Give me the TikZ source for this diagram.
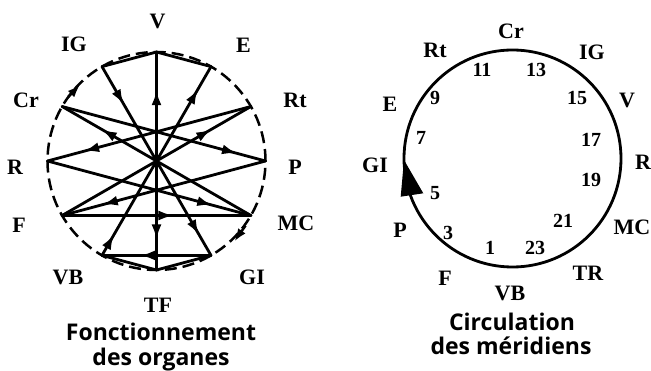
\documentclass[tikz,border=0pt]{standalone}
\usepackage{fontspec}
\setmainfont{Liberation Serif}
\newfontfamily\titlefont{Open Sans}
\usetikzlibrary{arrows.meta,decorations.markings,calc}
\begin{document}
\begin{tikzpicture}[x=1pt,y=1pt,
  lab/.style={font=\bfseries\fontsize{22}{22}\selectfont, inner sep=0pt},
  num/.style={font=\bfseries\fontsize{20}{20}\selectfont, inner sep=0pt},
  ttl/.style={font=\titlefont\bfseries\fontsize{23}{23}\selectfont, inner sep=0pt, anchor=base},
  ln/.style={line width=2.8pt, line cap=round, line join=round},
  dashc/.style={line width=2.5pt, dash pattern=on 12pt off 6pt},
  mk/.style={postaction={decorate}, decoration={markings, mark=at position #1 with {\arrow{Latex[length=15pt,width=10pt]}}}},
  mkk/.style 2 args={postaction={decorate}, decoration={markings, mark=at position #1 with {\arrow{Latex[length=15pt,width=10pt]}}, mark=at position #2 with {\arrow{Latex[length=15pt,width=10pt]}}}}
]
\useasboundingbox (0,0) rectangle (651,370);
% ---------- left diagram ----------
\coordinate (O) at (156.5,209);
\foreach \n/\a in {V/90,E/60,Rt/30,P/0,MC/-30,GI/-60,TF/-90,VB/-120,F/-150,R/180,Cr/150,IG/120}
  \coordinate (\n) at ($(O)+(\a:109)$);
\draw[dashc] (O) circle[radius=109];
\coordinate (da1) at ($(O)+(144:109)$);
\coordinate (da2) at ($(O)+(135:108)$);
\coordinate (db1) at ($(O)+(-36:110)$);
\coordinate (db2) at ($(O)+(-46:112)$);
\draw[line width=2.5pt, -{Latex[length=13pt,width=9pt]}] (da1) -- (da2);
\draw[line width=2.5pt, -{Latex[length=13pt,width=9pt]}] (db1) -- (db2);
% chords without arrows
\draw[ln] (IG) -- (V) -- (E);
\draw[ln] (VB) -- (TF) -- (GI);
% diameters
\draw[ln, mk=0.65] (O) -- (V);
\draw[ln, mk=0.72] (O) -- (TF);
\draw[ln, mkk={0.2}{0.89}] (IG) -- (GI);
\draw[ln, mkk={0.11}{0.88}] (VB) -- (E);
\draw[ln, mk=0.79] (MC) -- (Cr);
\draw[ln, mk=0.79] (F) -- (Rt);
% other chords
\draw[ln, mk=0.82] (Rt) -- (R);
\draw[ln, mk=0.86] (Cr) -- (P);
\draw[ln, mk=0.80] (P) -- (F);
\draw[ln, mk=0.81] (R) -- (MC);
\draw[ln, mk=0.59] (F) -- (MC);
\draw[ln, mk=0.65] (GI) -- (VB);
% labels
\node[lab] (lV) at (157.5,349) {V};
\node[lab] (lIG) at (74,325.5) {IG};
\node[lab] (lE) at (243.5,325) {E};
\node[lab] (lCr) at (26,270) {Cr};
\node[lab] (lRt) at (295,270) {Rt};
\node[lab] (lR) at (15,203) {R};
\node[lab] (lP) at (295,203) {P};
\node[lab] (lF) at (19,145) {F};
\node[lab] (lMC) at (296,147) {MC};
\node[lab] (lVB) at (68,93) {VB};
\node[lab] (lGI) at (252,93) {GI};
\node[lab] (lTF) at (158,65) {TF};
\node[ttl] (t1) at (161,30) {Fonctionnement};
\node[ttl] (t2) at (161,5) {des organes};
% ---------- right diagram ----------
\coordinate (O2) at (512.5,211.5);
\draw[ln] (O2) circle[radius=108.5];
\fill (404,210) -- (400.7,173.3) -- (423.3,176.7) -- cycle;
\node[lab] (rCr) at (511,339) {Cr};
\node[lab] (rIG) at (592,318) {IG};
\node[lab] (rV) at (627,270) {V};
\node[lab] (rR) at (643,208) {R};
\node[lab] (rMC) at (632,143) {MC};
\node[lab] (rTR) at (588,97) {TR};
\node[lab] (rVB) at (510,77) {VB};
\node[lab] (rF) at (445,92) {F};
\node[lab] (rP) at (400,140) {P};
\node[lab] (rGI) at (375,205) {GI};
\node[lab] (rE) at (390,266) {E};
\node[lab] (rRt) at (435,320) {Rt};
\node[num] (n11) at (482,300) {11};
\node[num] (n13) at (536,300) {13};
\node[num] (n15) at (577,272) {15};
\node[num] (n17) at (591,230) {17};
\node[num] (n19) at (591,190) {19};
\node[num] (n21) at (563,149) {21};
\node[num] (n23) at (535,122) {23};
\node[num] (n1) at (490,122) {1};
\node[num] (n3) at (448,137) {3};
\node[num] (n5) at (435,177) {5};
\node[num] (n7) at (421,232) {7};
\node[num] (n9) at (435,272) {9};
\node[ttl] (t3) at (512,40) {Circulation};
\node[ttl] (t4) at (511,16) {des méridiens};
\end{tikzpicture}
\end{document}
